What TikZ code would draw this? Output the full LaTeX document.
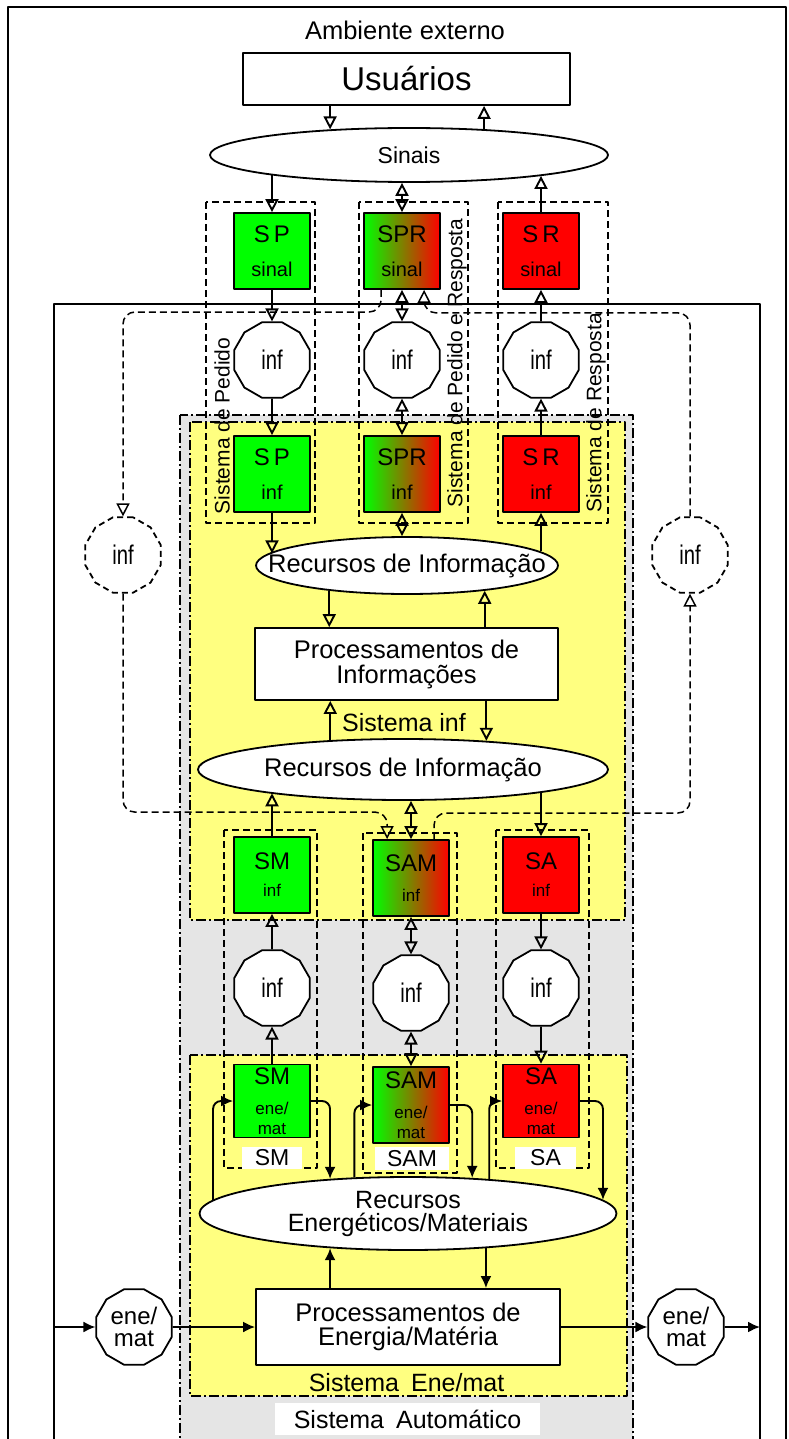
\documentclass[tikz,border=0pt]{standalone}
\usepackage{fontspec}
\setmainfont{Liberation Sans}
\usepackage{graphicx}
\usetikzlibrary{arrows.meta,positioning,calc,shapes.geometric}
\definecolor{sgreen}{RGB}{0,255,0}
\definecolor{sred}{RGB}{255,0,0}
\definecolor{syellow}{RGB}{255,255,128}
\definecolor{sgray}{RGB}{229,229,229}
\newcommand{\fs}[2]{\fontsize{#1}{#2}\selectfont}
\newcommand{\nrw}[1]{\scalebox{0.75}[1]{#1}}
\tikzset{
  itip/.tip={Triangle[open,length=13pt,width=13pt]},
  etip/.tip={Latex[length=12pt,width=11pt]},
  bx/.style={rectangle,draw,line width=1.8pt,minimum width=76pt,minimum height=76pt,inner sep=0pt,align=center,font={\fs{20}{22}}},
  bxl/.style={bx,font={\fs{17}{20}}},
  grad/.style={left color=sgreen,right color=sred},
  pbox/.style={rectangle,draw,line width=1.8pt,fill=white,inner sep=0pt,align=center,font={\fs{25.5}{25}}},
  ell/.style={ellipse,draw,line width=1.8pt,fill=white,inner sep=0pt,font={\fs{25.5}{25.5}}},
  oct/.style={regular polygon,regular polygon sides=12,draw,line width=1.8pt,fill=white,minimum size=78pt,inner sep=0pt,align=center,font={\fs{27}{27}}},
  octd/.style={oct,dash pattern=on 6pt off 4pt},
  grp/.style={draw,line width=1.5pt,dash pattern=on 7pt off 4pt},
  reg/.style={draw,line width=1.4pt,dash pattern=on 10pt off 3pt on 2pt off 3pt},
  ia/.style={-itip,line width=1.9pt},
  ib/.style={itip-itip,line width=1.9pt},
  ea/.style={-etip,line width=1.9pt},
  dl/.style={-itip,line width=1.5pt,dash pattern=on 7pt off 4pt,rounded corners=12pt},
  lab/.style={fill=white,inner sep=0pt,font={\fs{23}{23}}},
}
\begin{document}
\begin{tikzpicture}[x=1pt,y=-1pt,line join=round]
\useasboundingbox (0,0) rectangle (789,1439);
\clip (0,0) rectangle (789,1439);
% frames and system regions
\draw[line width=1.9pt] (8,7) rectangle (786,1460);
\draw[line width=1.9pt] (54,304) rectangle (760,1460);
\draw[reg,fill=sgray] (180,415) rectangle (633,1460);
\draw[reg,fill=syellow] (190,422) rectangle (625,920);
\draw[reg,fill=syellow] (190,1055) rectangle (627,1396);
% dashed groups
\draw[grp] (206,202) rectangle (315,523);
\draw[grp] (359,202) rectangle (468,523);
\draw[grp] (498,202) rectangle (608,523);
\draw[grp] (224,830) rectangle (317,1168);
\draw[grp] (363,833) rectangle (457,1173);
\draw[grp] (496,830) rectangle (589,1168);
\node[rotate=90,font={\fs{21}{21}}] (gP) at (222,426) {Sistema de Pedido};
\node[rotate=90,font={\fs{21}{21}}] (gPR) at (457,363) {Sistema de Pedido e Resposta};
\node[rotate=90,font={\fs{21}{21}}] (gR) at (596,413) {Sistema de Resposta};

% external environment
\node[font={\fs{25.5}{25.5}}] (amb) at (405,30) {Ambiente externo};
\node[pbox,minimum width=327pt,minimum height=52pt,font={\fs{33}{33}}] (usr) at (406.5,79) {Usuários};
\node[ell,minimum width=398pt,minimum height=54pt,font={\fs{23}{23}}] (sin) at (409,155) {\makebox[0pt]{Sinais}};

% signal and information boxes
\node[bx,fill=sgreen] (spS) at (272,251) {{\fs{24}{24}S\,P}\\[12pt]sinal};
\node[bx,grad] (sprS) at (402,251) {{\fs{24}{24}SPR}\\[12pt]sinal};
\node[bx,fill=sred] (srS) at (541,251) {{\fs{24}{24}S\,R}\\[12pt]sinal};
\node[oct] (iP) at (272,360) {\nrw{inf}};
\node[oct] (iPR) at (402,360) {\nrw{inf}};
\node[oct] (iR) at (541,360) {\nrw{inf}};
\node[bx,fill=sgreen] (spI) at (272,474) {{\fs{24}{24}S\,P}\\[12pt]inf};
\node[bx,grad] (sprI) at (402,474) {{\fs{24}{24}SPR}\\[12pt]inf};
\node[bx,fill=sred] (srI) at (541,474) {{\fs{24}{24}S\,R}\\[12pt]inf};

% information system
\node[ell,minimum width=302pt,minimum height=57pt] (ri1) at (407,565.5) {\makebox[0pt]{Recursos de Informação}};
\node[pbox,minimum width=303pt,minimum height=72pt] (procI) at (406.5,664) {Processamentos de\\Informações};
\node[font={\fs{25}{25}}] (sysI) at (404,723) {Sistema inf};
\node[ell,minimum width=410pt,minimum height=61pt] (ri2) at (403,769.5) {\makebox[0pt]{Recursos de Informação}};

% actuator boxes
\node[bxl,fill=sgreen] (smI) at (272,875) {{\fs{24}{24}SM}\\[7pt]inf};
\node[bxl,grad] (samI) at (411,878) {{\fs{24}{24}SAM}\\[10pt]inf};
\node[bxl,fill=sred] (saI) at (541,875) {{\fs{24}{24}SA}\\[7pt]inf};
\node[oct] (imM) at (272,988) {\nrw{inf}};
\node[oct] (imAM) at (411,993) {\nrw{inf}};
\node[oct] (imA) at (541,988) {\nrw{inf}};
\node[bxl,fill=sgreen,minimum height=73pt] (smE) at (272,1101) {{\fs{24}{24}SM}\\[10pt]ene/\\mat};
\node[bxl,grad] (samE) at (411,1105) {{\fs{24}{24}SAM}\\[10pt]ene/\\mat};
\node[bxl,fill=sred,minimum height=73pt] (saE) at (541,1101) {{\fs{24}{24}SA}\\[10pt]ene/\\mat};
\node[lab,minimum width=60pt,minimum height=22pt] (lSM) at (272,1158) {SM};
\node[lab,minimum width=74pt,minimum height=23pt] (lSAM) at (412,1158.5) {SAM};
\node[lab,minimum width=61pt,minimum height=22pt] (lSA) at (545.5,1158) {SA};

% energy/matter system
\node[ell,minimum width=417pt,minimum height=73pt] (rem) at (408,1213.5) {};
\node[align=center,font={\fs{25}{23}}] (remT) at (rem) {Recursos\\Energéticos/Materiais};
\node[pbox,minimum width=304pt,minimum height=76pt,font={\fs{25.5}{24}}] (procE) at (408,1327) {Processamentos de\\Energia/Matéria};
\node[oct,font={\fs{24}{22}}] (emL) at (134,1327) {ene/\\mat};
\node[oct,font={\fs{24}{22}}] (emR) at (686,1327) {ene/\\mat};
\coordinate (fL) at (54,1327);
\coordinate (fR) at (760,1327);
\node[font={\fs{25}{25}}] (sysE) at (406.5,1383) {Sistema\hspace{12pt}Ene/mat};
\node[fill=white,inner sep=0pt,minimum width=265pt,minimum height=32pt,font={\fs{25}{25}}] (sysA) at (407.5,1419) {Sistema\hspace{12pt}Automático};

% users <-> signals
\draw[ia] (usr.south -| sin.162) -- (sin.162);
\draw[ia] (sin.19) -- (sin.19 |- usr.south);
% request column
\draw[ia] (spS.north |- sin.-172) -- (spS.north);
\draw[ia] (spS) -- (iP);
\draw[ia] (iP) -- (spI);
\draw[ia] (spI.south) -- (spI.south |- ri1.175);
% request/response column
\draw[ib] (sin.south -| sprS) -- (sprS.north);
\draw[ib] (sprS) -- (iPR);
\draw[ib] (iPR) -- (sprI);
\draw[ib] (sprI.south) -- (sprI.south |- ri1.north);
% response column
\draw[ia] (srI.south |- ri1.6) -- (srI.south);
\draw[ia] (srI) -- (iR);
\draw[ia] (iR) -- (srS);
\draw[ia] (srS.north) -- (srS.north |- sin.-9);
% information processing
\draw[ia] (ri1.-162) -- (ri1.-162 |- procI.north);
\draw[ia] (ri1.-18 |- procI.north) -- (ri1.-18);
\draw[ia] (ri2.158) -- (ri2.158 |- procI.south);
\draw[ia] (ri2.19 |- procI.south) -- (ri2.19);
% actuator columns
\draw[ia] (smI.north) -- (smI.north |- ri2.-170);
\draw[ia] (imM) -- (smI);
\draw[ia] (smE) -- (imM);
\draw[ib] (ri2.south -| samI) -- (samI.north);
\draw[ib] (samI) -- (imAM);
\draw[ib] (imAM) -- (samE);
\draw[ia] (saI.north |- ri2.-9) -- (saI.north);
\draw[ia] (saI) -- (imA);
\draw[ia] (imA) -- (saE);

% feedback loops
\node[octd] (iLd) at (123,555) {\nrw{inf}};
\node[octd] (iRd) at (690,555) {\nrw{inf}};
\coordinate (lpT) at (123,312);
\coordinate (rpB) at (690,813);
\draw[dl] ($(sprS.south west)+(18,0)$) |- (lpT) -- (iLd.north);
\draw[dl] (iLd.south) |- ($(samI.north west)+(15,-27)$) -- ($(samI.north west)+(15,0)$);
\draw[dl] ($(samI.north west)+(62,0)$) |- (rpB) -- (iRd.south);
\draw[dl] (iRd.north) |- ($(sprS.south west)+(61,23)$) -- ($(sprS.south west)+(61,0)$);

% energy/matter flows
\draw[ea,rounded corners=8pt] (rem.176) |- (smE.west);
\draw[ea,rounded corners=8pt] (smE.east) -| (rem.156);
\draw[ea,rounded corners=8pt] (rem.146) |- (samE.west);
\draw[ea,rounded corners=8pt] (samE.east) -| (rem.29);
\draw[ea,rounded corners=8pt] (rem.23) |- (saE.west);
\draw[ea,rounded corners=8pt] (saE.east) -| (rem.4);
\draw[ea] (rem.-156 |- procE.north) -- (rem.-156);
\draw[ea] (rem.-24) -- (rem.-24 |- procE.north);
\draw[ea] (fL) -- (emL);
\draw[ea] (emL) -- (procE);
\draw[ea] (procE) -- (emR);
\draw[ea] (emR) -- (fR);
\end{tikzpicture}
\end{document}
